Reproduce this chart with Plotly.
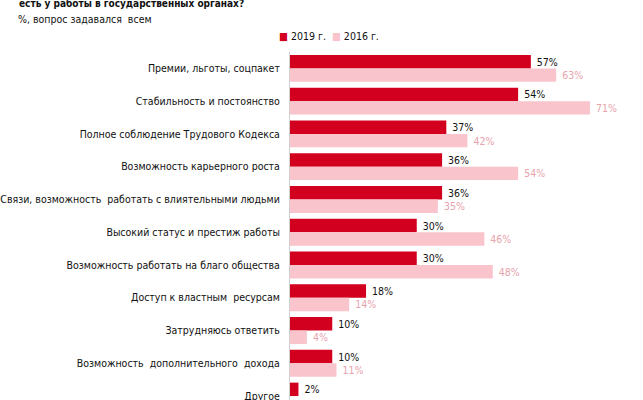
import plotly.graph_objects as go

categories = [
    "Премии, льготы, соцпакет",
    "Стабильность и постоянство",
    "Полное соблюдение Трудового Кодекса",
    "Возможность карьерного роста",
    "Связи, возможность  работать с влиятельными людьми",
    "Высокий статус и престиж работы",
    "Возможность работать на благо общества",
    "Доступ к властным  ресурсам",
    "Затрудняюсь ответить",
    "Возможность  дополнительного  дохода",
    "Другое",
]
values_2019 = [57, 54, 37, 36, 36, 30, 30, 18, 10, 10, 2]
values_2016 = [63, 71, 42, 54, 35, 46, 48, 14, 4, 11, None]
series_names = ["2019 г.", "2016 г."]

FONT = "DejaVu Sans Condensed, Liberation Sans, sans-serif"
RED = "#d2001e"
PINK = "#f9c4cc"
FS = 10.5

L, R, T, B = 290, 15, 52, 0
PW, PH = 643 - L - R, 400 - T - B

def lbl(vals):
    return ["" if v is None else f" {v}%" for v in vals]

def px_x(px):
    return (px - L) / PW

def px_y(py):
    return 1 + (T - py) / PH

fig = go.Figure()
fig.add_trace(go.Bar(
    y=categories, x=values_2019, orientation="h", name=series_names[0],
    marker=dict(color=RED, line=dict(width=0)), showlegend=False,
    text=lbl(values_2019), textposition="outside", cliponaxis=False,
    textfont=dict(family=FONT, size=FS, color="#111111"),
))
fig.add_trace(go.Bar(
    y=categories, x=values_2016, orientation="h", name=series_names[1],
    marker=dict(color=PINK, line=dict(width=0)), showlegend=False,
    text=lbl(values_2016), textposition="outside", cliponaxis=False,
    textfont=dict(family=FONT, size=FS, color="#e8a3ad"),
))

legend_text = (f"<span style='color:{RED}'>■</span> {series_names[0]}  "
               f"<span style='color:{PINK}'>■</span> {series_names[1]}")

fig.update_layout(
    width=643, height=400,
    margin=dict(l=L, r=R, t=T, b=B, autoexpand=False),
    paper_bgcolor="white", plot_bgcolor="white",
    barmode="group", bargap=0.18, bargroupgap=0,
    font=dict(family=FONT, size=FS, color="#111111"),
    showlegend=False,
    xaxis=dict(range=[0, 80], visible=False, fixedrange=True),
    yaxis=dict(type="category", range=[10.12, -0.5], showline=True,
               linecolor="#d0d0d0", linewidth=1, ticks="", showgrid=False,
               ticklabelstandoff=7, tickfont=dict(family=FONT, size=FS, color="#111111")),
    annotations=[
        dict(text="<b>есть у работы в государственных органах?</b>", xref="paper", yref="paper",
             x=px_x(17), y=px_y(0), xanchor="left", yanchor="bottom", showarrow=False,
             font=dict(family=FONT, size=10, color="#111111"), yshift=-10.5),
        dict(text="%, вопрос задавался  всем", xref="paper", yref="paper",
             x=px_x(16), y=px_y(18.5), xanchor="left", yanchor="middle", showarrow=False,
             font=dict(family=FONT, size=FS, color="#111111")),
        dict(text=legend_text, xref="paper", yref="paper",
             x=px_x(277), y=px_y(35.5), xanchor="left", yanchor="middle", showarrow=False,
             font=dict(family=FONT, size=FS, color="#111111")),
    ],
)

fig.write_html("out.html")
